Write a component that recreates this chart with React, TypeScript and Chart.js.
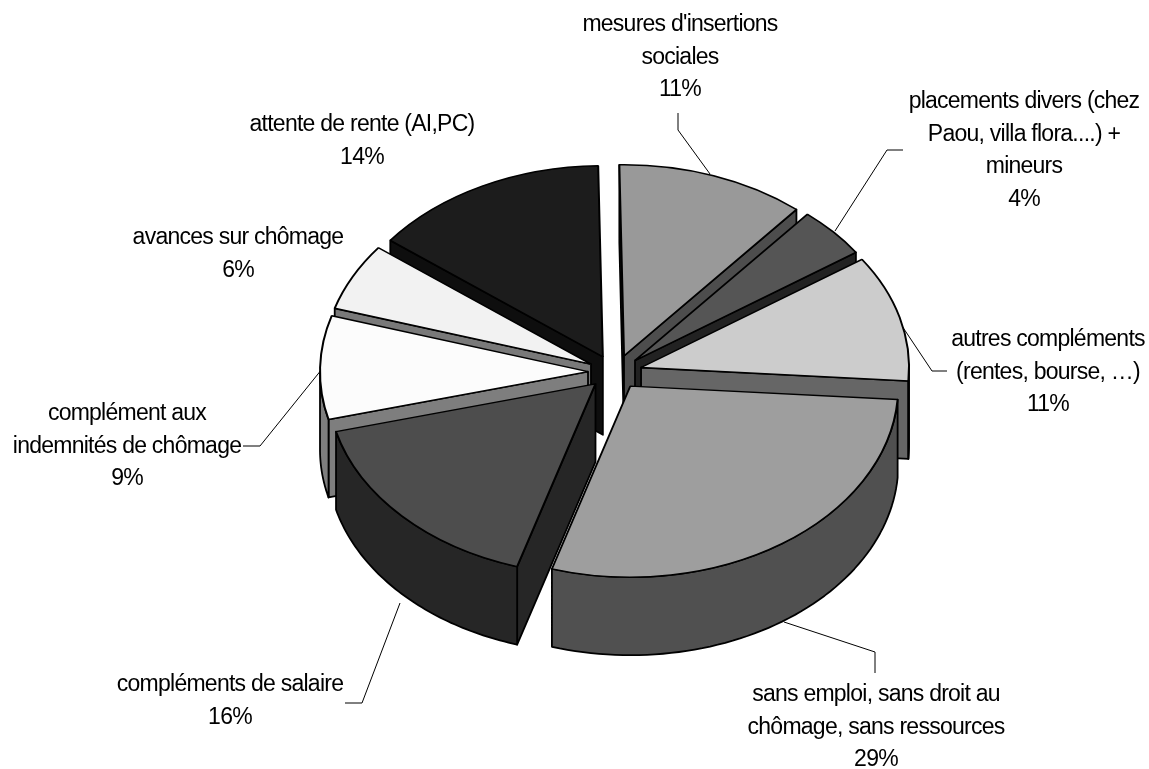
import React, { useEffect, useRef } from "react";
import { Chart, registerables } from "chart.js";

Chart.register(...registerables);

const categories = [
  "mesures d'insertions sociales",
  "placements divers (chez Paou, villa flora....) + mineurs",
  "autres compléments (rentes, bourse, …)",
  "sans emploi, sans droit au chômage, sans ressources",
  "compléments de salaire",
  "complément aux indemnités de chômage",
  "avances sur chômage",
  "attente de rente (AI,PC)",
];
const values = [11.4, 4.3, 10.7, 28.6, 16.25, 8.75, 5.7, 14.3];
const labelLines = [
  ["mesures d'insertions", "sociales"],
  ["placements divers (chez", "Paou, villa flora....) +", "mineurs"],
  ["autres compléments", "(rentes, bourse, …)"],
  ["sans emploi, sans droit au", "chômage, sans ressources"],
  ["compléments de salaire"],
  ["complément aux", "indemnités de chômage"],
  ["avances sur chômage"],
  ["attente de rente (AI,PC)"],
];
const topColors = ["#999999", "#555555", "#cccccc", "#9e9e9e", "#4d4d4d", "#fcfcfc", "#f2f2f2", "#1c1c1c"];
const wallColors = ["#4d4d4d", "#222222", "#666666", "#505050", "#262626", "#7e7e7e", "#797979", "#0e0e0e"];

// label anchor: centre x, first line y
const labelAnchors = [
  [680, 25], [1024, 102], [1048, 340], [876, 695], [230, 685], [127, 414], [238, 238], [362, 125],
];
const leaders = [
  [[678, 113], [678, 130], [710, 174]],
  [[903, 150], [887, 150], [835, 231]],
  [[947, 371], [932, 371], [900, 323]],
  [[875, 673], [875, 652], [784, 622]],
  [[345, 703], [362, 703], [400, 603]],
  [[243, 446], [260, 446], [322, 369]],
];

const SQUASH = 0.713;
const DEPTH = 78;
const EXPLODE_X = 27;
const EXPLODE_Y = 24;
const LINE_H = 32.4;
const EDGE = 1.8;

const pie3d = {
  id: "pie3d",
  beforeDatasetsDraw(chart: any) {
    const ctx: CanvasRenderingContext2D = chart.ctx;
    const arcs: any[] = chart.getDatasetMeta(0).data;

    ctx.save();
    ctx.strokeStyle = "#000";
    ctx.lineWidth = 1;
    for (const pts of leaders) {
      ctx.beginPath();
      pts.forEach((p, i) => (i ? ctx.lineTo(p[0], p[1]) : ctx.moveTo(p[0], p[1])));
      ctx.stroke();
    }
    ctx.restore();

    const order = arcs
      .map((a, i) => ({ a, i, m: (a.startAngle + a.endAngle) / 2 }))
      .sort((p, q) => Math.sin(p.m) - Math.sin(q.m));

    for (const { a, i, m } of order) {
      const ox = a.x + Math.cos(m) * EXPLODE_X;
      const oy = a.y + Math.sin(m) * EXPLODE_Y * SQUASH;
      const r = a.outerRadius;
      const rim = (t: number, drop: number) => [
        ox + Math.cos(t) * r,
        oy + Math.sin(t) * r * SQUASH + drop,
      ];
      ctx.save();
      ctx.fillStyle = wallColors[i];
      ctx.strokeStyle = "#000";
      ctx.lineWidth = EDGE;
      ctx.lineJoin = "round";
      const poly = (pts: number[][]) => {
        ctx.beginPath();
        pts.forEach((p, k) => (k ? ctx.lineTo(p[0], p[1]) : ctx.moveTo(p[0], p[1])));
        ctx.closePath();
        ctx.fill();
        ctx.stroke();
      };
      // cut faces turned toward the viewer
      if (Math.cos(a.startAngle) < 0) {
        poly([[ox, oy], rim(a.startAngle, 0), rim(a.startAngle, DEPTH), [ox, oy + DEPTH]]);
      }
      if (Math.cos(a.endAngle) > 0) {
        poly([[ox, oy], rim(a.endAngle, 0), rim(a.endAngle, DEPTH), [ox, oy + DEPTH]]);
      }
      // front part of the outer wall
      const lo = Math.max(a.startAngle, 0);
      const hi = Math.min(a.endAngle, Math.PI);
      if (lo < hi) {
        const steps = 60;
        const top: number[][] = [];
        const bot: number[][] = [];
        for (let s = 0; s <= steps; s++) {
          const t = lo + ((hi - lo) * s) / steps;
          top.push(rim(t, 0));
          bot.push(rim(t, DEPTH));
        }
        poly([...top, ...bot.reverse()]);
      }
      ctx.restore();

      // top face, drawn by the arc element
      ctx.save();
      ctx.translate(ox, oy);
      ctx.scale(1, SQUASH);
      ctx.translate(-a.x, -a.y);
      a.draw(ctx);
      ctx.restore();
    }

    // labels
    ctx.save();
    ctx.fillStyle = "#000";
    ctx.font = '23px "Liberation Sans"';
    (ctx as any).letterSpacing = "-0.75px";
    ctx.textAlign = "center";
    ctx.textBaseline = "middle";
    labelLines.forEach((lines, i) => {
      const [x, y] = labelAnchors[i];
      [...lines, `${Math.round(values[i])}%`].forEach((txt, k) => ctx.fillText(txt, x, y + k * LINE_H));
    });
    ctx.restore();
    return false;
  },
};

export default function App() {
  const ref = useRef<HTMLCanvasElement>(null);
  useEffect(() => {
    const chart = new Chart(ref.current!, {
      type: "pie",
      data: {
        labels: categories,
        datasets: [
          { data: values, backgroundColor: topColors, borderColor: "#000", borderWidth: 2 },
        ],
      },
      options: {
        responsive: false,
        animation: false,
        rotation: -1,
        layout: { padding: { left: 346, right: 265, top: 103, bottom: 128 } },
        plugins: { legend: { display: false }, tooltip: { enabled: false } },
      },
      plugins: [pie3d],
    } as any);
    return () => chart.destroy();
  }, []);
  return (
    <div style={{ position: "absolute", left: 0, top: 0, width: 1149, height: 769, background: "#fff" }}>
      <canvas ref={ref} width={1149} height={769} style={{ display: "block" }} />
    </div>
  );
}
